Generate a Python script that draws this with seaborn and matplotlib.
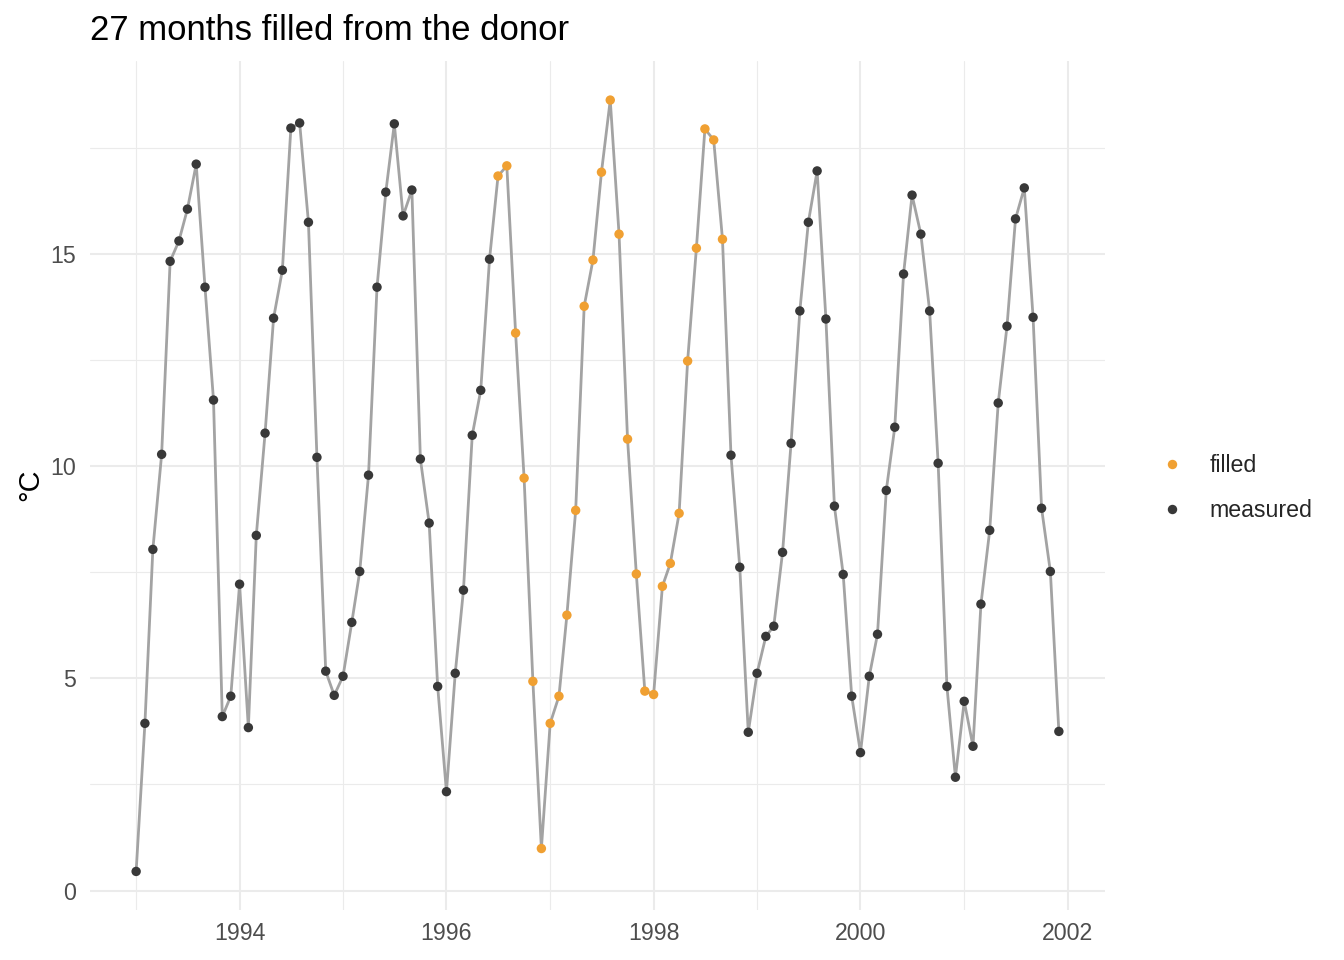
import pandas as pd
import matplotlib
matplotlib.use("Agg")
import matplotlib.pyplot as plt
import matplotlib.dates as mdates
import seaborn as sns

# monthly mean temperature (°C), Jan..Dec per year
temp_1993 = [0.45, 3.94, 8.04, 10.28, 14.83, 15.31, 16.06, 17.12, 14.22, 11.56, 4.10, 4.58]
temp_1994 = [7.22, 3.84, 8.37, 10.78, 13.49, 14.62, 17.97, 18.09, 15.75, 10.21, 5.17, 4.60]
temp_1995 = [5.05, 6.32, 7.52, 9.79, 14.22, 16.46, 18.07, 15.90, 16.51, 10.17, 8.66, 4.81]
temp_1996 = [2.33, 5.12, 7.08, 10.73, 11.79, 14.88, 16.84, 17.08, 13.14, 9.72, 4.93, 0.99]
temp_1997 = [3.94, 4.58, 6.49, 8.96, 13.77, 14.86, 16.93, 18.63, 15.47, 10.64, 7.46, 4.70]
temp_1998 = [4.62, 7.17, 7.71, 8.89, 12.48, 15.14, 17.95, 17.69, 15.35, 10.26, 7.62, 3.73]
temp_1999 = [5.12, 5.99, 6.23, 7.97, 10.54, 13.66, 15.75, 16.96, 13.47, 9.06, 7.45, 4.58]
temp_2000 = [3.25, 5.05, 6.04, 9.43, 10.92, 14.53, 16.39, 15.47, 13.66, 10.07, 4.81, 2.67]
temp_2001 = [4.46, 3.40, 6.75, 8.49, 11.49, 13.30, 15.83, 16.56, 13.51, 9.01, 7.52, 3.75]

# gap Jul 1996 .. Sep 1998 filled from the donor station
n_measured_before = 42
n_filled = 27
n_measured_after = 39

temps = (temp_1993 + temp_1994 + temp_1995 + temp_1996 + temp_1997
         + temp_1998 + temp_1999 + temp_2000 + temp_2001)
source = (["measured"] * n_measured_before + ["filled"] * n_filled
          + ["measured"] * n_measured_after)
dates = pd.date_range("1993-01-01", periods=len(temps), freq="MS")

df = pd.DataFrame({"date": dates, "temp": temps, "source": source})

sns.set_theme(style="white")
plt.rcParams["font.family"] = ["Liberation Sans", "DejaVu Sans"]

W, H = 1344, 960
fig = plt.figure(figsize=(W / 100, H / 100), dpi=100)
ax = fig.add_axes([90 / W, 1 - 910 / H, (1105 - 90) / W, (910 - 61.5) / H])

sns.lineplot(data=df, x="date", y="temp", color="#A3A3A3", linewidth=2.0,
             ax=ax, zorder=2)
sns.scatterplot(data=df, x="date", y="temp", hue="source",
                hue_order=["filled", "measured"],
                palette={"filled": "#F0A032", "measured": "#383838"},
                s=46, linewidth=0, ax=ax, zorder=3, legend=True)

# ggplot-like 5% expansion
x0, x1 = df["date"].min(), df["date"].max()
span = x1 - x0
ax.set_xlim(x0 - span * 0.05, x1 + span * 0.05)
y0, y1 = min(temps), max(temps)
ax.set_ylim(y0 - (y1 - y0) * 0.05, y1 + (y1 - y0) * 0.05)

ax.xaxis.set_major_locator(mdates.YearLocator(2))
ax.set_xticks(pd.date_range("1993-01-01", "2001-01-01", freq="2YS"), minor=True)
ax.xaxis.set_major_formatter(mdates.DateFormatter("%Y"))
ax.set_yticks([0, 5, 10, 15])
ax.set_yticks([2.5, 7.5, 12.5, 17.5], minor=True)

ax.grid(which="major", color="#EBEBEB", linewidth=1.5)
ax.grid(which="minor", color="#EBEBEB", linewidth=0.8)
ax.set_axisbelow(True)
for sp in ax.spines.values():
    sp.set_visible(False)
ax.tick_params(which="both", length=0)
ax.tick_params(axis="x", labelsize=16.7, labelcolor="#4D4D4D", pad=9)
ax.tick_params(axis="y", labelsize=16.7, labelcolor="#4D4D4D", pad=10)
ax.set_xlabel("")
ax.set_ylabel("")

handles, labels = ax.get_legend_handles_labels()
ax.legend_.remove()
fig.legend(handles, labels, loc="center left", bbox_to_anchor=(1137 / W, 1 - 488 / H),
           frameon=False, fontsize=16.7, handletextpad=1.03, labelspacing=0.98,
           markerscale=1.0, handlelength=1.2, borderpad=0.4)

fig.text(30 / W, 1 - 485 / H, "°C", rotation=90, ha="center", va="center",
         fontsize=20.8, color="black")
fig.text(90 / W, 1 - 40 / H, "27 months filled from the donor", ha="left",
         va="baseline", fontsize=25, color="black")

fig.savefig("out.png", dpi=100)
